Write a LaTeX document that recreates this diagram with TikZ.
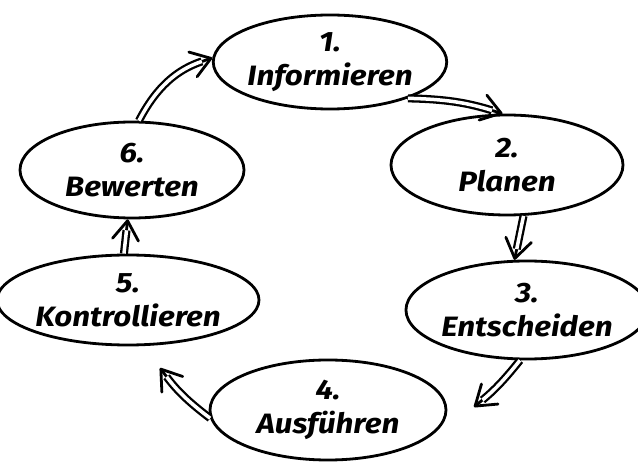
\documentclass[tikz,border=0pt]{standalone}
\usepackage{fontspec}
\setsansfont{Fira Sans}[FakeStretch=1.12]
\usetikzlibrary{shapes.geometric,arrows.meta}
\tikzstyle{phase} = [ellipse, draw=black, line width=2.8pt, inner sep=0pt, align=center, font=\sffamily\bfseries\itshape\fontsize{28}{34}\selectfont]
\tikzstyle{head} = [line width=2.8pt, line cap=round, -{Straight Barb[length=19pt, width=26pt, round]}]
\tikzstyle{shaft} = [line width=2.3pt, double, double distance=3.5pt, shorten >=11pt]

\begin{document}
\begin{tikzpicture}[x=1pt, y=-1pt]
  \useasboundingbox (0,0) rectangle (638,470);
  \node (inf) [phase, minimum width=222pt, minimum height=94pt] at (330,62) {1.\\Informieren};
  \node (plan) [phase, minimum width=232pt, minimum height=100pt] at (507,165) {2.\\Planen};
  \node (ent) [phase, minimum width=214pt, minimum height=98pt] at (527,310) {3.\\Entscheiden};
  \node (aus) [phase, minimum width=236pt, minimum height=100pt] at (328,410) {4.\\Ausführen};
  \node (kon) [phase, minimum width=252pt, minimum height=90pt] at (128,300) {5.\\Kontrollieren};
  \node (bew) [phase, minimum width=224pt, minimum height=96pt] at (132,170) {6.\\Bewerten};
  \coordinate (tipaus) at (474,407);
  \coordinate (tipkon) at (160,368);

  \draw [head] (inf.-25) to[bend left=8] (plan.95);
  \draw [shaft] (inf.-25) to[bend left=8] (plan.95);

  \draw [head] (plan.-72) -- (ent.104);
  \draw [shaft] (plan.-72) -- (ent.104);

  \draw [head] (ent.-98) to[bend left=6] (tipaus);
  \draw [shaft] (ent.-98) to[bend left=6] (tipaus);

  \draw [head] (aus.184) to[bend left=8] (tipkon);
  \draw [shaft] (aus.184) to[bend left=8] (tipkon);

  \draw [head] (kon.95) -- (bew.-95);
  \draw [shaft] (kon.95) -- (bew.-95);

  \draw [head] (bew.82) to[bend left=22] (inf.178);
  \draw [shaft] (bew.82) to[bend left=22] (inf.178);
\end{tikzpicture}
\end{document}
